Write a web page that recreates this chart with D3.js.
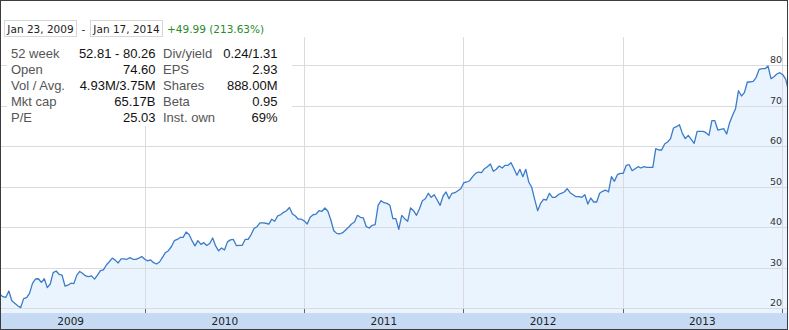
<!DOCTYPE html>
<html>
<head>
<meta charset="utf-8">
<script src="https://cdn.jsdelivr.net/npm/d3@7/dist/d3.min.js"></script>
<style>
body { margin: 0; background: #fff; }
svg { display: block; }
</style>
</head>
<body>
<svg id="chart" width="789" height="330"></svg>
<script>
// range shown in the header
var rangeStart = "Jan 23, 2009", rangeEnd = "Jan 17, 2014";
var changeText = "+49.99 (213.63%)";

// closing prices, evenly spaced across the visible window
var prices = [
  23.40, 22.87, 22.71, 24.27, 21.88, 21.23, 20.65, 20.16, 22.38, 22.63, 23.70, 26.17, 27.23, 27.30, 26.40, 27.30,
  25.10, 26.00, 28.80, 29.20, 28.40, 28.20, 25.50, 25.70, 26.20, 26.10, 28.20, 29.10, 28.60, 28.00, 27.80, 28.00,
  27.20, 28.20, 29.30, 29.50, 30.70, 31.50, 32.40, 31.90, 31.20, 32.20, 32.20, 32.10, 32.50, 32.10, 32.10, 32.40,
  32.80, 32.10, 31.70,
  31.93, 31.27, 30.94, 31.43, 32.59, 33.73, 34.23, 35.20, 36.70, 37.00, 37.50, 37.50, 38.84, 38.20, 36.70, 35.40,
  36.70, 35.80, 36.20, 35.50, 36.00, 37.36, 35.40, 34.20, 34.90, 34.40, 36.40, 36.90, 37.00, 35.50, 35.55, 35.55,
  37.00, 37.00, 38.20, 39.70, 40.15, 41.10, 41.10, 41.00, 40.80, 42.00, 41.50, 42.80, 43.10, 43.70, 44.10, 44.90,
  43.30, 42.80, 42.00, 42.00, 41.60, 40.80,
  42.47, 43.10, 43.28, 44.10, 43.95, 44.77, 43.95, 41.80, 39.16, 38.50, 38.35, 38.67, 39.33, 40.00, 40.80, 41.30,
  42.96, 42.47, 42.30, 40.15, 39.83, 40.50, 40.65, 45.43, 46.57, 46.07, 45.90, 45.43, 42.13, 42.13, 39.50, 42.96,
  42.13, 41.48, 44.77, 44.10, 42.96, 44.60, 46.57, 47.06, 48.40, 47.40, 48.05, 46.74, 45.43, 47.73, 48.72, 47.06,
  48.40, 48.55, 49.04, 49.53, 51.00, 51.19,
  51.50, 52.50, 53.33, 53.65, 53.48, 54.47, 54.96, 55.63, 53.83, 54.32, 55.13, 54.64, 55.30, 55.30, 55.95, 54.47,
  52.84, 54.32, 52.50, 54.32, 51.19, 49.88, 46.90, 44.10, 45.90, 46.90, 46.74, 48.40, 47.40, 47.40, 48.05, 48.40,
  48.72, 49.53, 48.55, 48.05, 47.56, 47.56, 47.40, 48.05, 45.75, 47.23, 46.25, 46.25, 48.40, 48.89, 49.20, 48.72,
  52.50, 51.36, 53.00, 53.33, 53.33,
  55.31, 55.46, 53.98, 54.47, 54.96, 54.64, 54.96, 54.81, 54.81, 54.81, 59.41, 59.09, 59.09, 60.57, 61.06, 61.88,
  64.52, 64.84, 65.33, 63.20, 61.88, 62.70, 61.73, 60.74, 63.70, 63.70, 63.70, 63.36, 62.70, 66.32, 66.32, 64.02,
  64.20, 64.35, 63.04, 65.83, 67.65, 69.28, 73.73, 72.42, 73.24, 75.88, 75.88, 76.05, 77.04, 79.00, 79.16, 79.16,
  79.83, 76.70, 77.19, 77.85, 78.17, 77.68, 76.54, 73.39
];

var years = [2009, 2010, 2011, 2012, 2013, 2014];
var priceTicks = [20, 30, 40, 50, 60, 70, 80];

var statLabels1 = ["52 week", "Open", "Vol / Avg.", "Mkt cap", "P/E"];
var statValues1 = ["52.81 - 80.26", "74.60", "4.93M/3.75M", "65.17B", "25.03"];
var statLabels2 = ["Div/yield", "EPS", "Shares", "Beta", "Inst. own"];
var statValues2 = ["0.24/1.31", "2.93", "888.00M", "0.95", "69%"];

var svg = d3.select("#chart");
var W = 789, H = 330;
var plotTop = 37, plotBottom = 313, plotLeft = 1, plotRight = 787;

var t0 = new Date(2009, 0, 23), t1 = new Date(2014, 0, 17);
var x = d3.scaleTime().domain([t0, t1]).range([-4, 788.7]);
var y = d3.scaleLinear().domain([20, 80]).range([308.3, 65.3]);
// the first reading sits on the left edge of the visible plot
var firstShown = x.invert(0);
var when = d3.scaleLinear().domain([0, prices.length - 1]).range([+firstShown, +t1]);

var data = prices.map(function(p, i) { return {date: new Date(when(i)), v: p}; });

svg.append("rect").attr("width", W).attr("height", H).attr("fill", "#fff");

svg.append("defs").append("clipPath").attr("id", "plotclip")
  .append("rect")
  .attr("x", plotLeft).attr("y", plotTop)
  .attr("width", plotRight - plotLeft).attr("height", plotBottom - plotTop);

var plot = svg.append("g").attr("clip-path", "url(#plotclip)");

// area under the line
var area = d3.area()
  .x(function(d) { return x(d.date); })
  .y0(plotBottom)
  .y1(function(d) { return y(d.v); });

plot.append("path").datum(data)
  .attr("d", area)
  .attr("fill", "#eaf4fe");

// grid lines
plot.selectAll(".hgrid").data(priceTicks).enter().append("line")
  .attr("class", "hgrid")
  .attr("x1", plotLeft).attr("x2", plotRight)
  .attr("y1", function(d) { return Math.round(y(d)) + 0.5; })
  .attr("y2", function(d) { return Math.round(y(d)) + 0.5; })
  .attr("stroke", "#d9dbe0").attr("stroke-width", 1);

var yearDates = years.slice(1).map(function(yr) { return new Date(yr, 0, 1); });

plot.selectAll(".vgrid").data(yearDates).enter().append("line")
  .attr("class", "vgrid")
  .attr("x1", function(d) { return Math.round(x(d)) + 0.5; })
  .attr("x2", function(d) { return Math.round(x(d)) + 0.5; })
  .attr("y1", plotTop).attr("y2", plotBottom)
  .attr("stroke", "#d9dbe0").attr("stroke-width", 1);

// price line
var line = d3.line()
  .x(function(d) { return x(d.date); })
  .y(function(d) { return y(d.v); });

plot.append("path").datum(data)
  .attr("d", line)
  .attr("fill", "none")
  .attr("stroke", "#3b7bc8")
  .attr("stroke-width", 1.3)
  .attr("stroke-linejoin", "round");

// price labels on the right
svg.selectAll(".plabel").data(priceTicks).enter().append("text")
  .attr("class", "plabel")
  .attr("x", Math.round(x(new Date(2014, 0, 1))))
  .attr("y", function(d) { return y(d) - 2; })
  .attr("text-anchor", "end")
  .style("font-family", "'DejaVu Sans', Verdana, sans-serif")
  .style("font-size", "9.5px")
  .attr("fill", "#333")
  .text(function(d) { return d; });

// year band at the bottom
svg.append("rect")
  .attr("x", plotLeft).attr("y", plotBottom)
  .attr("width", plotRight - plotLeft).attr("height", H - 1 - plotBottom)
  .attr("fill", "#c6dbf3");

svg.selectAll(".ytick").data(yearDates).enter().append("line")
  .attr("class", "ytick")
  .attr("x1", function(d) { return Math.round(x(d)) + 0.5; })
  .attr("x2", function(d) { return Math.round(x(d)) + 0.5; })
  .attr("y1", plotBottom - 4).attr("y2", plotBottom)
  .attr("stroke", "#666").attr("stroke-width", 1);

svg.selectAll(".ylabel").data(years.slice(0, -1)).enter().append("text")
  .attr("class", "ylabel")
  .attr("x", function(yr) {
    var a = Math.max(x(new Date(yr, 0, 1)), x(t0));
    var b = x(new Date(yr + 1, 0, 1));
    return (a + b) / 2;
  })
  .attr("y", 325)
  .attr("text-anchor", "middle")
  .style("font-family", "'DejaVu Sans', Verdana, sans-serif")
  .style("font-size", "10.5px")
  .attr("fill", "#222")
  .text(function(yr) { return yr; });

// key stats box
svg.append("rect")
  .attr("x", 7).attr("y", plotTop)
  .attr("width", 285).attr("height", 89)
  .attr("fill", "#fff");

var stats = svg.append("g")
  .style("font-family", "'Liberation Sans', Arial, sans-serif")
  .style("font-size", "13px");

function statColumn(labels, values, lx, vx) {
  labels.forEach(function(l, i) {
    stats.append("text").attr("x", lx).attr("y", 58 + i * 16)
      .attr("fill", "#555").text(l);
    stats.append("text").attr("x", vx).attr("y", 58 + i * 16)
      .attr("text-anchor", "end").attr("fill", "#111").text(values[i]);
  });
}
statColumn(statLabels1, statValues1, 11, 155.5);
statColumn(statLabels2, statValues2, 163, 277.5);

// header with date range
var head = svg.append("g")
  .style("font-family", "'DejaVu Sans', Verdana, sans-serif")
  .style("font-size", "10.5px");

head.append("rect").attr("x", 4.5).attr("y", 20.5).attr("width", 72).attr("height", 16)
  .attr("fill", "#fff").attr("stroke", "#d6d6d6");
head.append("text").attr("x", 40.5).attr("y", 33).attr("text-anchor", "middle")
  .attr("fill", "#222").text(rangeStart);
head.append("text").attr("x", 83.5).attr("y", 33).attr("text-anchor", "middle")
  .attr("fill", "#222").text("-");
head.append("rect").attr("x", 90.5).attr("y", 20.5).attr("width", 72).attr("height", 16)
  .attr("fill", "#fff").attr("stroke", "#d6d6d6");
head.append("text").attr("x", 126.5).attr("y", 33).attr("text-anchor", "middle")
  .attr("fill", "#222").text(rangeEnd);
head.append("text").attr("x", 167).attr("y", 33)
  .attr("fill", "#2a8a2a").text(changeText);

// outer frame
svg.append("rect")
  .attr("x", 0.5).attr("y", 0.5).attr("width", W - 2).attr("height", H - 1)
  .attr("fill", "none").attr("stroke", "#3c3c3c");
</script>
</body>
</html>
